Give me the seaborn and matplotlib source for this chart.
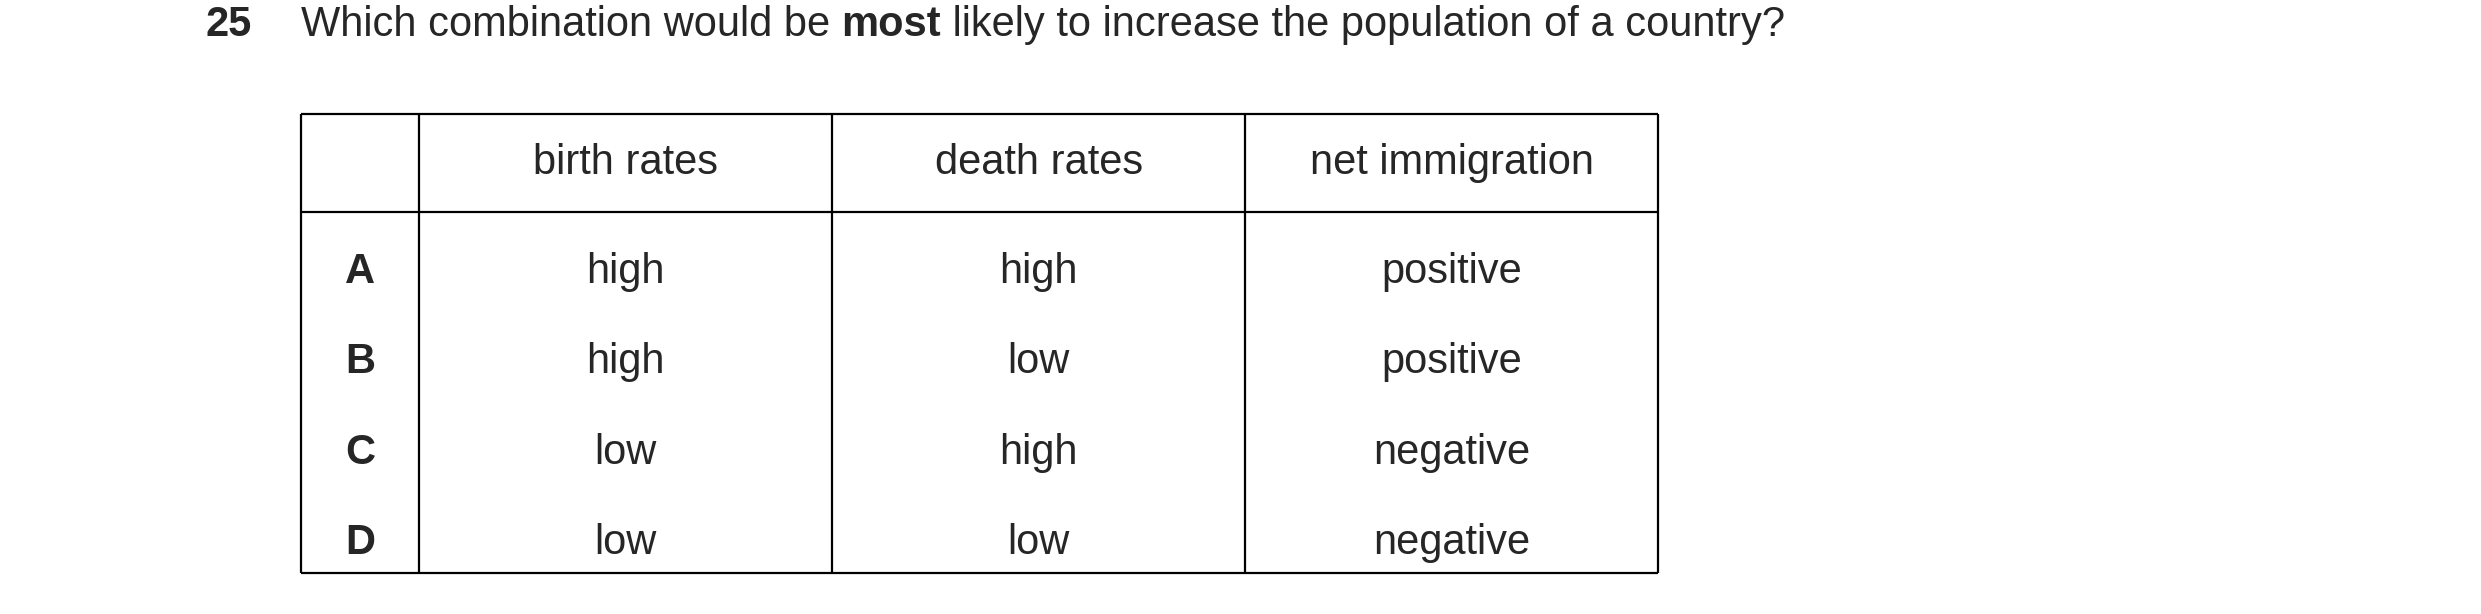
import matplotlib
matplotlib.use("Agg")
import matplotlib.pyplot as plt
import seaborn as sns

sns.set_theme(style="white")
plt.rcParams['font.family'] = ['Liberation Sans', 'DejaVu Sans']

qnum = "25"
columns = ["birth rates", "death rates", "net immigration"]
options = ["A", "B", "C", "D"]
birth = ["high", "high", "low", "low"]
death = ["high", "low", "high", "low"]
immig = ["positive", "positive", "negative", "negative"]

W, H = 1568, 388
fig = plt.figure(figsize=(24.81, 6.14), dpi=100)
ax = fig.add_axes([0, 0, 1, 1])
ax.set_xlim(0, W)
ax.set_ylim(H, 0)
ax.axis("off")

fs = 30
ax.text(130, 16, qnum, fontsize=fs, fontweight="bold", va="center", ha="left")
ax.text(190, 16, "Which combination would be ", fontsize=fs, va="center", ha="left")
t = ax.text(190, 16, "Which combination would be ", fontsize=fs, va="center", ha="left", alpha=0)
fig.canvas.draw()
r = fig.canvas.get_renderer()
bb = t.get_window_extent(r)
x1 = ax.transData.inverted().transform((bb.x1, 0))[0]
t2 = ax.text(x1, 16, "most", fontsize=fs, fontweight="bold", va="center", ha="left")
bb2 = t2.get_window_extent(r)
x2 = ax.transData.inverted().transform((bb2.x1, 0))[0]
ax.text(x2, 16, " likely to increase the population of a country?", fontsize=fs, va="center", ha="left")

xs = [190, 265, 526, 787, 1048]
top, hdr, bot = 72, 134, 362
lw = 1.6
ax.vlines(xs, top, bot, color="black", lw=lw)
ax.hlines([top, hdr, bot], xs[0], xs[-1], color="black", lw=lw)

for i, c in enumerate(columns):
    ax.text((xs[i + 1] + xs[i + 2]) / 2, 103, c, fontsize=fs, ha="center", va="center")
row_y = [172, 229, 286, 343]
for j, opt in enumerate(options):
    y = row_y[j]
    ax.text((xs[0] + xs[1]) / 2, y, opt, fontsize=fs, fontweight="bold", ha="center", va="center")
    for i, vals in enumerate([birth, death, immig]):
        ax.text((xs[i + 1] + xs[i + 2]) / 2, y, vals[j], fontsize=fs, ha="center", va="center")

fig.savefig("out.png", dpi=100, facecolor="white")
